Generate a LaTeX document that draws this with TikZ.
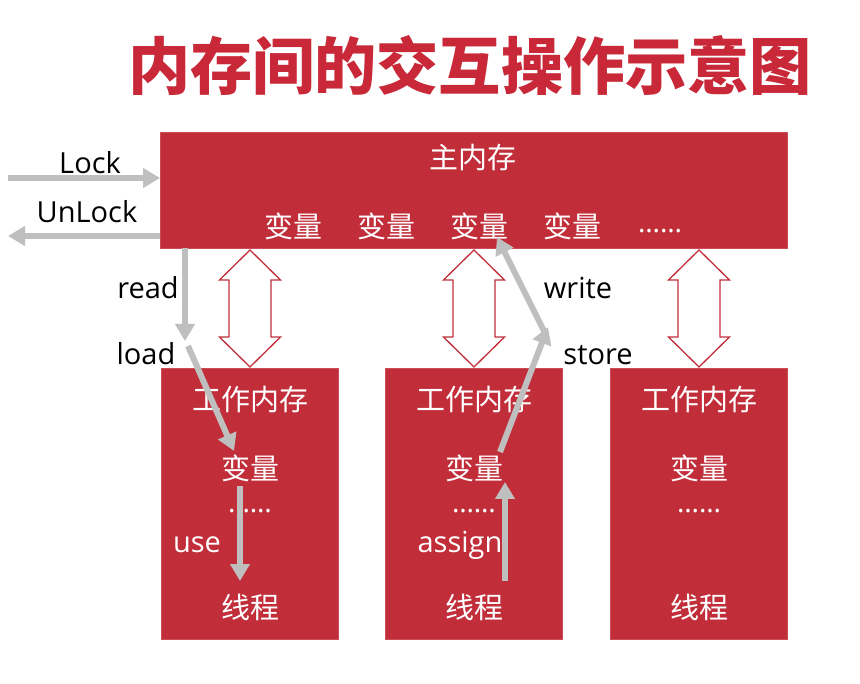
\documentclass[tikz,border=0pt]{standalone}
\usepackage{fontspec}
\setmainfont{Open Sans}
\newfontfamily\cjk{Noto Sans CJK SC}
\usetikzlibrary{arrows.meta,calc}
\definecolor{boxred}{RGB}{193,46,58}
\definecolor{titlered}{RGB}{200,40,55}
\definecolor{garr}{RGB}{191,191,191}
\tikzset{
  redbox/.style={fill=boxred, draw=boxred!85!white, line width=1pt, inner sep=0pt, anchor=north west},
  cjklab/.style={text=white, font=\cjk\fontsize{29}{29}\selectfont, inner sep=0pt},
  dotlab/.style={text=white, font=\fontsize{28}{28}\selectfont, inner sep=0pt},
  lab/.style={text=black, font=\fontsize{29}{29}\selectfont, inner sep=0pt},
  wlab/.style={text=white, font=\fontsize{29}{29}\selectfont, inner sep=0pt},
  garrow/.style={draw=garr, line width=6pt, -{Triangle[length=17pt,width=19pt]}},
  dblarr/.pic={
    \draw[draw=boxred, fill=white, line width=1.3pt, line join=miter]
      (0,-58.5) -- (30.5,-28.5) -- (21,-28.5) -- (21,28.5) -- (30.5,28.5) -- (0,58.5)
      -- (-30.5,28.5) -- (-21,28.5) -- (-21,-28.5) -- (-30.5,-28.5) -- cycle;
  }
}
\begin{document}
\begin{tikzpicture}[x=1pt,y=-1pt]
\useasboundingbox[fill=white] (0,0) rectangle (860,684);
% title
\node[inner sep=0pt, text=titlered] (title) at (470,66)
  {\resizebox{684pt}{!}{\cjk\bfseries\fontsize{62}{62}\selectfont 内存间的交互操作示意图}};
% main memory
\node[redbox, minimum width=627pt, minimum height=116pt] (main) at (160,132) {};
\node[cjklab] (mt) at (473,158) {主内存};
\node[cjklab] (v1) at (293,226) {变量};
\node[cjklab] (v2) at (386,226) {变量};
\node[cjklab] (v3) at (479,226) {变量};
\node[cjklab] (v4) at (572,226) {变量};
\node[dotlab] (vd) at (660,231) {……};
% working memories
\foreach \i/\x in {1/161,2/385,3/610}{
  \node[redbox, minimum width=177pt, minimum height=271pt] (w\i) at (\x,368) {};
  \node[cjklab] (wt\i) at ($(w\i.north)+(0,32)$) {工作内存};
  \node[cjklab] (wv\i) at ($(w\i.north)+(0,100)$) {变量};
  \node[dotlab] (wd\i) at ($(w\i.north)+(0,143)$) {……};
  \node[cjklab] (wth\i) at ($(w\i.north)+(0,239)$) {线程};
  \coordinate (d\i) at ($(w\i.north)!0.5!(w\i.north |- main.south)$);
  \pic at (d\i) {dblarr};
}
% lock / unlock
\coordinate (lockS) at (8,178);
\coordinate (unlockE) at (8,236);
\draw[garrow] (lockS) -- (main.west |- lockS);
\draw[garrow] (main.west |- unlockE) -- (unlockE);
\node[lab] (lockL) at (90,163) {Lock};
\node[lab] (unlockL) at (87,212) {UnLock};
% read / load
\coordinate (readS) at (185,248);
\coordinate (readE) at (185,341);
\coordinate (loadS) at (188,346);
\coordinate (loadE) at (234,451);
\draw[garrow] (readS) -- (readE);
\draw[garrow] (loadS) -- (loadE);
\node[lab] (readL) at (148,288) {read};
\node[lab] (loadL) at (146,354) {load};
% use
\coordinate (useS) at (240,486);
\coordinate (useE) at (240,581);
\draw[garrow] (useS) -- (useE);
\node[wlab] (useL) at (197,545) {use};
% assign
\coordinate (asgS) at (505,581);
\coordinate (asgE) at (505,482);
\draw[garrow] (asgS) -- (asgE);
\node[wlab] (asgL) at (460,545) {assign};
% store / write
\coordinate (stoS) at (500,452);
\coordinate (stoE) at (548,327);
\coordinate (wriS) at (544,331);
\coordinate (wriE) at (497,237);
\draw[garrow] (stoS) -- (stoE);
\draw[garrow] (wriS) -- (wriE);
\node[lab] (wriL) at (578,288) {write};
\node[lab] (stoL) at (598,355) {store};
\end{tikzpicture}
\end{document}
